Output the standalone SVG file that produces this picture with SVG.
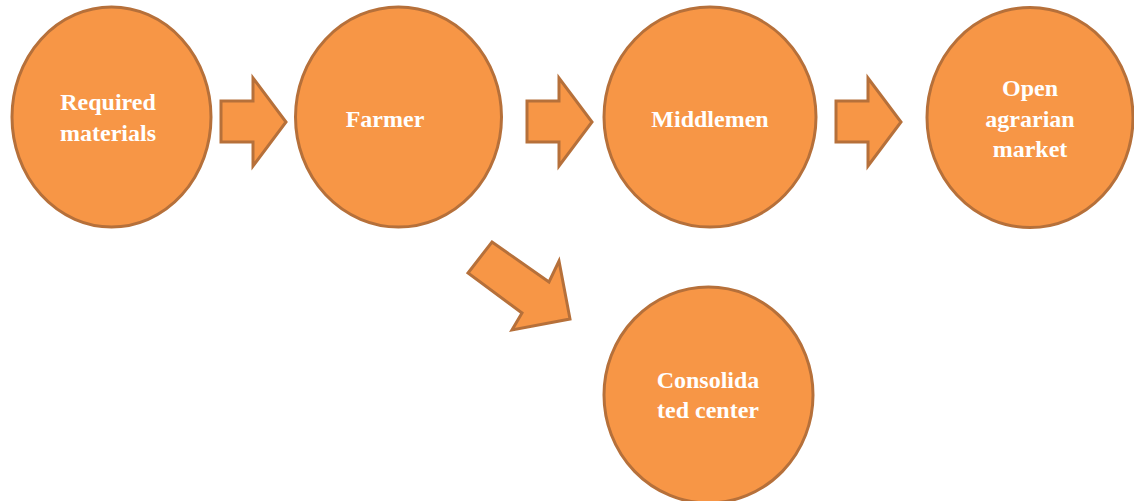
<svg xmlns="http://www.w3.org/2000/svg" width="1134" height="501" viewBox="0 0 1134 501">
<style>
.n{fill:#F79646;stroke:#B6703A;stroke-width:3}
.a{fill:#F79646;stroke:#B6703A;stroke-width:3;stroke-linejoin:miter}
.t{fill:#FFFFFF;font-family:"Liberation Serif",serif;font-weight:bold;font-size:24px;text-anchor:middle}
</style>
<rect width="1134" height="501" fill="#FFFFFF"/>
<g id="connectors">
<polygon class="a" points="221,101 253,101 253,78 286,122 253,166 253,142 221,142"/>
<polygon class="a" points="527,101 559,101 559,78 592,122 559,166 559,142 527,142"/>
<polygon class="a" points="836,101 868,101 868,78 901,122 868,166 868,142 836,142"/>
<polygon class="a" points="492,242 549,282 559,261 570,319 512,330 522,313 468,273"/>
</g>
<g id="required">
<ellipse class="n" cx="111.5" cy="117" rx="99.5" ry="110"/>
<text class="t" x="108" y="110">Required</text>
<text class="t" x="108" y="141">materials</text>
</g>
<g id="farmer">
<ellipse class="n" cx="398.5" cy="117" rx="103" ry="110"/>
<text class="t" x="385" y="127">Farmer</text>
</g>
<g id="middlemen">
<ellipse class="n" cx="710" cy="117" rx="106" ry="110"/>
<text class="t" x="710" y="127">Middlemen</text>
</g>
<g id="market">
<ellipse class="n" cx="1030" cy="117.5" rx="103" ry="110"/>
<text class="t" x="1030" y="96">Open</text>
<text class="t" x="1030" y="127">agrarian</text>
<text class="t" x="1030" y="157">market</text>
</g>
<g id="consolidated">
<ellipse class="n" cx="708.5" cy="395" rx="104.5" ry="108"/>
<text class="t" x="708" y="388">Consolida</text>
<text class="t" x="708" y="418">ted center</text>
</g>
</svg>
